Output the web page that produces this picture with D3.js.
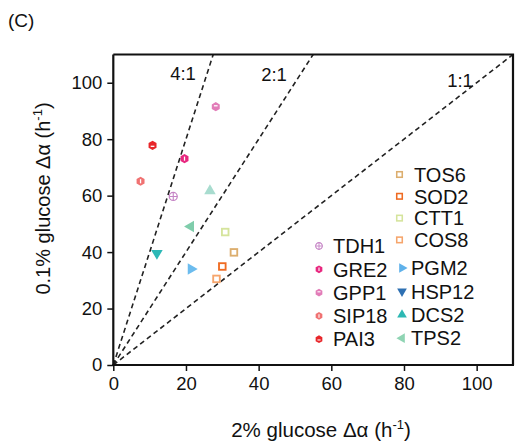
<!DOCTYPE html>
<html><head><meta charset="utf-8">
<script src="https://cdn.jsdelivr.net/npm/d3@7"></script>
<style>body{margin:0;background:#fff}svg{display:block;font-family:"Liberation Sans",Arial,sans-serif}</style>
</head><body><svg id="c" width="515" height="444"></svg>
<script>
const genes = ["TDH1","GRE2","GPP1","SIP18","PAI3","TOS6","SOD2","CTT1","COS8","PGM2","HSP12","DCS2","TPS2"];
const glucose2 = [16.5,19.6,28.2,7.5,10.8,33.2,30.0,30.8,28.4,21.4,12.0,26.6,21.3];
const glucose01 = [59.7,73.1,91.5,65.1,77.8,39.9,34.9,47.1,30.5,34.0,39.6,61.7,49.1];
const shapes = ["cross","hexV","hexT","hexV","hexB","square","square","square","square","triR","triD","triU","triL"];
const markColors = ["#c584c5","#e8277f","#e27cb8","#f07272","#e8262a","#dcae6e","#ef6b22","#d5e49c","#f6a56c","#6cbcee","#2cb8b6","#a8dccf","#7fcdab"];
const legendColors = ["#c584c5","#e8277f","#e27cb8","#f07272","#e8262a","#dcae6e","#ef6b22","#d5e49c","#f6a56c","#5fb1ea","#2e70b2","#2db8b3","#8fd4b3"];
const ratios = [4,2,1];
const ratioLabels = ["4:1","2:1","1:1"];
const ticks = [0,20,40,60,80,100];

const svg = d3.select("#c");
const L=113.3, R=513, T=54.5, B=365;
const x = d3.scaleLinear().domain([0,110]).range([L,R]);
const y = d3.scaleLinear().domain([0,110]).range([B,T]);

// dashed ratio lines
svg.append("clipPath").attr("id","cl").append("rect").attr("x",L).attr("y",T).attr("width",R-L).attr("height",B-T);
const lg = svg.append("g").attr("clip-path","url(#cl)");
ratios.forEach(r=>{
  const xe = Math.min(110, 110/r);
  lg.append("line").attr("x1",x(0)).attr("y1",y(0)).attr("x2",x(xe)).attr("y2",y(xe*r))
    .attr("stroke","#222").attr("stroke-width",1.6).attr("stroke-dasharray","5,3.5");
});
const rlPos = [[183,80],[274,81],[460,87]];
ratioLabels.forEach((t,i)=>{
  svg.append("text").attr("x",rlPos[i][0]).attr("y",rlPos[i][1]).attr("text-anchor","middle")
    .attr("font-size",18.5).attr("fill","#111").text(t);
});

// frame
svg.append("path").attr("d",`M${L},${T}H${R}V${B}`).attr("fill","none").attr("stroke","#111").attr("stroke-width",2.2);

const xa = svg.append("g").attr("transform",`translate(0,${B})`)
  .call(d3.axisBottom(x).tickValues(ticks).tickSize(6).tickPadding(6).tickSizeOuter(0));
const ya = svg.append("g").attr("transform",`translate(${L},0)`)
  .call(d3.axisLeft(y).tickValues(ticks).tickSize(6).tickPadding(5).tickSizeOuter(0));
[xa,ya].forEach(a=>{
  a.select(".domain").attr("stroke","#111").attr("stroke-width",2.2);
  a.selectAll(".tick line").attr("stroke","#111").attr("stroke-width",1.5);
  a.selectAll("text").attr("font-size",18.5).attr("fill","#111").attr("font-family","Liberation Sans, Arial, sans-serif");
});
ya.select(".domain").attr("d",`M0,${B+1}V${T}`);
xa.select(".domain").attr("d",`M${L-1},0H${R+1}`);

// marker drawing
function hexPath(r){
  let p="";
  for(let k=0;k<6;k++){const a=Math.PI/6+k*Math.PI/3;p+=(k?"L":"M")+(r*Math.cos(a)).toFixed(2)+","+(r*Math.sin(a)).toFixed(2);}
  return p+"Z";
}
function drawMark(g, shape, color, s){
  if(shape==="square"){
    const h=s*0.66;
    g.append("rect").attr("x",-h).attr("y",-h).attr("width",2*h).attr("height",2*h)
      .attr("fill","none").attr("stroke",color).attr("stroke-width",s*0.37);
  } else if(shape==="cross"){
    const r=s*0.8;
    g.append("circle").attr("r",r).attr("fill","none").attr("stroke",color).attr("stroke-width",s*0.25);
    g.append("path").attr("d",`M${-r},0H${r}M0,${-r}V${r}`).attr("stroke",color).attr("stroke-width",s*0.22);
  } else if(shape.startsWith("hex")){
    const r=s*0.92;
    g.append("path").attr("d",hexPath(r)).attr("fill",color);
    let d;
    if(shape==="hexV") d=`M0,${-r*0.45}V${r*0.45}`;
    else if(shape==="hexT") d=`M${-r*0.4},${-r*0.2}H${r*0.4}`;
    else d=`M${-r*0.4},${r*0.2}H${r*0.4}`;
    g.append("path").attr("d",d).attr("stroke","#fff").attr("stroke-width",r*0.28);
  } else {
    const rot={triU:0,triR:90,triD:180,triL:270}[shape];
    g.append("path").attr("d",d3.symbol(d3.symbolTriangle, s*s*2.3)()).attr("fill",color)
      .attr("transform",`rotate(${rot})`);
  }
}

genes.forEach((gname,i)=>{
  const g = svg.append("g").attr("transform",`translate(${x(glucose2[i])},${y(glucose01[i])})`);
  drawMark(g, shapes[i], markColors[i], 5);
});

// legend
const cols = [
  {idx:[0,1,2,3,4], mx:319, tx:333, y0:246, dy:23.3},
  {idx:[5,6,7,8], mx:399.5, tx:414, y0:174.5, dy:21.8},
  {idx:[9,10,11,12], mx:402, tx:411, y0:268, dy:23.4}
];
cols.forEach(c=>{
  c.idx.forEach((i,k)=>{
    const yy=c.y0+k*c.dy;
    const g=svg.append("g").attr("transform",`translate(${c.mx},${yy})`);
    drawMark(g, shapes[i], legendColors[i], 4.2);
    svg.append("text").attr("x",c.tx).attr("y",yy).attr("dy","0.36em").attr("font-size",20)
      .attr("fill","#111").text(genes[i]);
  });
});

// titles
const xt = svg.append("text").attr("x",321).attr("y",437).attr("text-anchor","middle").attr("font-size",20.5).attr("fill","#111");
xt.append("tspan").text("2% glucose Δα (h");
xt.append("tspan").attr("dy",-8).attr("font-size",13).text("-1");
xt.append("tspan").attr("dy",8).text(")");
const yt = svg.append("text").attr("transform",`translate(50,198.5) rotate(-90)`).attr("text-anchor","middle").attr("font-size",20).attr("fill","#111");
yt.append("tspan").text("0.1% glucose Δα (h");
yt.append("tspan").attr("dy",-8).attr("font-size",13).text("-1");
yt.append("tspan").attr("dy",8).text(")");

svg.append("text").attr("x",8).attr("y",27).attr("font-size",19).attr("fill","#111").text("(C)");
</script></body></html>
